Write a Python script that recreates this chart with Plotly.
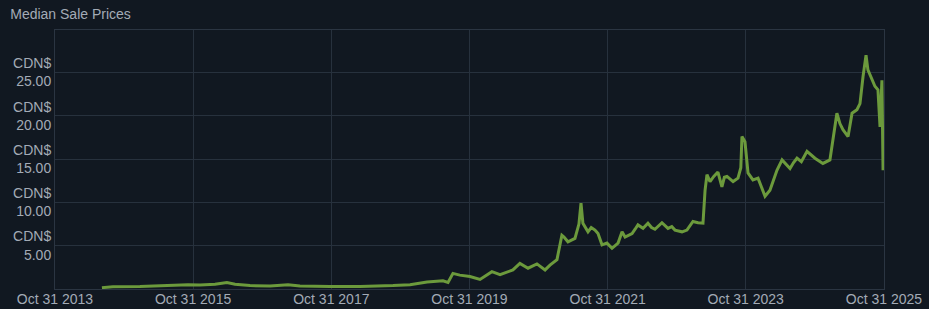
import plotly.graph_objects as go

dates = [
    "2014-07-06", "2014-09-02", "2015-01-23", "2015-07-01", "2015-10-04", "2015-12-07",
    "2016-02-24", "2016-04-27", "2016-06-09", "2016-08-27", "2016-12-11", "2017-03-16",
    "2017-05-18", "2017-10-24", "2018-04-01", "2018-09-22", "2018-12-21", "2019-03-21",
    "2019-06-13", "2019-07-10", "2019-08-05", "2019-09-10", "2019-11-03", "2019-12-26",
    "2020-02-27", "2020-04-10", "2020-06-17", "2020-07-24", "2020-09-05", "2020-10-22",
    "2020-12-04", "2020-12-30", "2021-02-05", "2021-03-03", "2021-03-14", "2021-04-04",
    "2021-05-11", "2021-06-01", "2021-06-12", "2021-06-22", "2021-07-19", "2021-08-05",
    "2021-08-25", "2021-09-10", "2021-10-01", "2021-10-27", "2021-11-23", "2021-12-25",
    "2022-01-15", "2022-01-31", "2022-03-09", "2022-03-25", "2022-04-09", "2022-05-06",
    "2022-06-01", "2022-06-20", "2022-07-08", "2022-08-14", "2022-09-15", "2022-10-05",
    "2022-10-22", "2022-11-28", "2022-12-24", "2023-01-25", "2023-02-21", "2023-03-19",
    "2023-03-30", "2023-04-09", "2023-04-25", "2023-05-15", "2023-06-06", "2023-06-27",
    "2023-07-10", "2023-07-24", "2023-08-25", "2023-09-20", "2023-10-05", "2023-10-11",
    "2023-10-27", "2023-11-12", "2023-11-25", "2023-12-08", "2024-01-04", "2024-02-10",
    "2024-03-07", "2024-04-13", "2024-05-10", "2024-06-21", "2024-07-10", "2024-07-28",
    "2024-08-20", "2024-09-19", "2024-10-31", "2024-12-12", "2025-01-18", "2025-02-03",
    "2025-02-24", "2025-03-12", "2025-03-28", "2025-04-24", "2025-05-15", "2025-06-10",
    "2025-06-26", "2025-07-12", "2025-07-28", "2025-08-07", "2025-08-28", "2025-09-13",
    "2025-09-29", "2025-10-10", "2025-10-20", "2025-10-26",
]
prices = [
    0.15, 0.27, 0.30, 0.40, 0.50, 0.45,
    0.55, 0.75, 0.55, 0.40, 0.35, 0.50,
    0.35, 0.30, 0.30, 0.40, 0.50, 0.80,
    0.95, 0.75, 1.80, 1.60, 1.45, 1.10,
    2.00, 1.65, 2.20, 2.95, 2.40, 2.90,
    2.20, 2.75, 3.40, 6.20, 6.00, 5.45,
    5.85, 7.50, 9.90, 7.60, 6.60, 7.10,
    6.80, 6.40, 5.10, 5.30, 4.70, 5.30,
    6.60, 6.00, 6.40, 6.90, 7.40, 7.00,
    7.60, 7.10, 6.90, 7.65, 7.00, 7.20,
    6.80, 6.60, 6.80, 7.80, 7.65, 7.60,
    11.40, 13.20, 12.40, 13.00, 13.50, 11.80,
    12.90, 13.00, 12.40, 12.80, 14.00, 17.60,
    17.00, 13.40, 13.00, 12.60, 12.80, 10.70,
    11.40, 13.70, 14.90, 13.90, 14.60, 15.10,
    14.70, 15.90, 15.10, 14.50, 14.90, 17.20,
    20.30, 19.10, 18.40, 17.60, 20.30, 20.70,
    21.40, 24.50, 27.00, 25.30, 24.30, 23.40,
    23.00, 18.70, 24.10, 13.70,
]
tick_dates = ["2013-10-31", "2015-10-31", "2017-10-31", "2019-10-31",
              "2021-10-31", "2023-10-31", "2025-10-31"]
tick_labels = ["Oct 31 2013", "Oct 31 2015", "Oct 31 2017", "Oct 31 2019",
               "Oct 31 2021", "Oct 31 2023", "Oct 31 2025"]
y_ticks = [5, 10, 15, 20, 25]
y_labels = ["CDN$<br>5.00", "CDN$<br>10.00", "CDN$<br>15.00",
            "CDN$<br>20.00", "CDN$<br>25.00"]

bg = "#111821"
grid = "#27313d"
txt = "#a3abb6"

fig = go.Figure()
fig.add_trace(go.Scatter(
    x=dates, y=prices, mode="lines",
    line=dict(color="#6c9a3c", width=3),
    hoverinfo="skip",
))

fig.update_layout(
    width=929, height=309,
    margin=dict(l=55, r=45, t=30, b=20),
    paper_bgcolor=bg, plot_bgcolor=bg,
    showlegend=False,
    font=dict(family="Liberation Sans, Arial, sans-serif", size=14, color=txt),
    title=dict(text="Median Sale Prices", x=0.011, xanchor="left",
               y=0.955, yanchor="middle", font=dict(size=14, color=txt)),
)
fig.update_xaxes(
    type="date", range=["2013-10-31", "2025-10-31"],
    tickvals=tick_dates, ticktext=tick_labels,
    showgrid=True, gridcolor=grid, gridwidth=1,
    showline=True, linecolor="#2b3542", mirror=True,
    zeroline=False, ticks="", automargin=False, ticklabelstandoff=-3,
)
fig.update_yaxes(
    range=[0, 29.9],
    tickvals=y_ticks, ticktext=y_labels,
    showgrid=True, gridcolor=grid, gridwidth=1,
    showline=True, linecolor="#2b3542", mirror=True,
    zeroline=False, ticks="", ticklabelstandoff=0, automargin=False,
)

fig.write_html("out.html")
